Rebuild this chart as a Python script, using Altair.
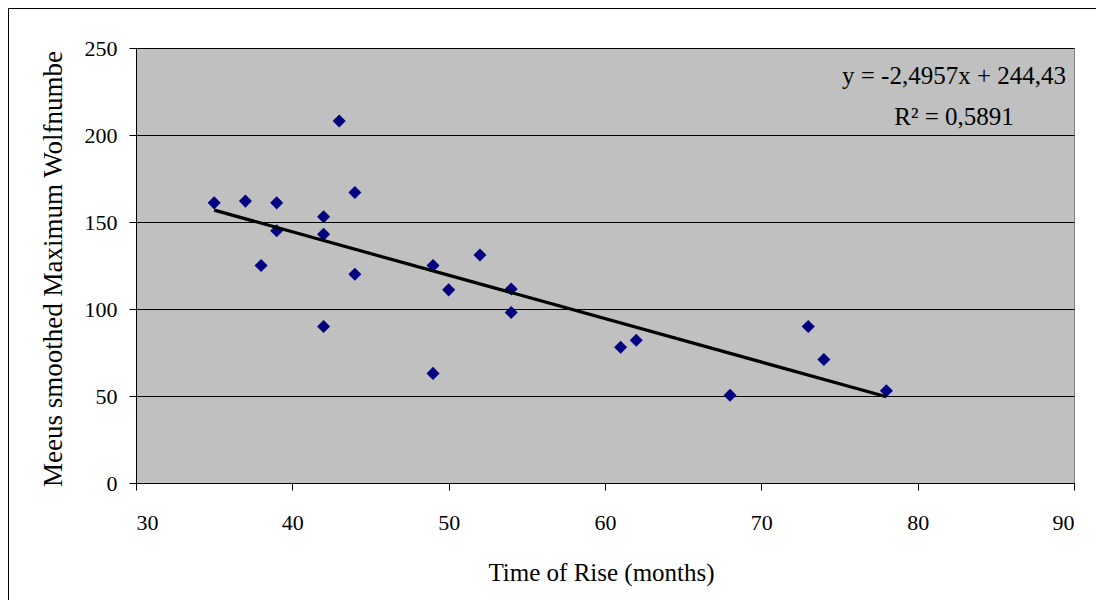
import altair as alt
import pandas as pd

# Data
rise_months = [35, 37, 39, 39, 38, 42, 42, 43, 44, 44, 42, 49, 49, 50, 52, 54, 54, 61, 62, 68, 73, 74, 78]
max_wolf = [161, 162, 161, 145, 125, 153, 143, 208, 167, 120, 90, 125, 63, 111, 131, 111.5, 98, 78, 82, 50.4, 90, 71, 53]
x_ticks = [30, 40, 50, 60, 70, 80, 90]
y_ticks = [0, 50, 100, 150, 200, 250]
equation_text = "y = -2,4957x + 244,43"
r2_text = "R² = 0,5891"
x_title = "Time of Rise (months)"
y_title = "Meeus smoothed Maximum Wolfnumber"

df = pd.DataFrame({"rise": rise_months, "wolf": max_wolf})

FONT = "Liberation Serif"
W, H = 938, 435

xs = alt.Scale(domain=[30, 90], nice=False, zero=False)
ys = alt.Scale(domain=[0, 250], nice=False)

xaxis = alt.Axis(values=x_ticks, grid=False, tickSize=7, labelPadding=22,
                 title=x_title, titleFont=FONT, titleFontSize=25, titleFontWeight="normal",
                 titleX=465, titleY=89, titleBaseline="middle", labelFont=FONT, labelFontSize=22,
                 domainColor="black", tickColor="black", labelColor="black", titleColor="black")
yaxis = alt.Axis(values=y_ticks, grid=True, gridColor="black", gridWidth=1, tickSize=7,
                 labelPadding=12, title=None, labelFont=FONT, labelFontSize=22,
                 domainColor="black", tickColor="black", labelColor="black")

base = alt.Chart(df)

points = base.mark_point(shape="diamond", filled=True, color="#000080", size=170, opacity=1).encode(
    x=alt.X("rise:Q", scale=xs, axis=xaxis),
    y=alt.Y("wolf:Q", scale=ys, axis=yaxis),
)

trend = base.transform_regression("rise", "wolf").mark_line(color="black", strokeWidth=3.2).encode(
    x=alt.X("rise:Q", scale=xs),
    y=alt.Y("wolf:Q", scale=ys),
)

eq1 = alt.Chart(pd.DataFrame({"t": [equation_text]})).mark_text(
    font=FONT, fontSize=25, color="black", align="center", baseline="alphabetic"
).encode(text="t:N", x=alt.value(818), y=alt.value(36))
eq2 = alt.Chart(pd.DataFrame({"t": [r2_text]})).mark_text(
    font=FONT, fontSize=25, color="black", align="center", baseline="alphabetic"
).encode(text="t:N", x=alt.value(818), y=alt.value(77))

ytitle = alt.Chart(pd.DataFrame({"t": [y_title]})).mark_text(
    font=FONT, fontSize=27, color="black", align="left", baseline="alphabetic", angle=270,
    limit=444, ellipsis="\u200b"
).encode(text="t:N", x=alt.value(-74), y=alt.value(439))

frame_left = alt.Chart(pd.DataFrame({"a": [0]})).mark_rule(color="black", strokeWidth=1).encode(
    x=alt.value(-127.5), y=alt.value(-39.5), y2=alt.value(600))
frame_top = alt.Chart(pd.DataFrame({"a": [0]})).mark_rule(color="black", strokeWidth=1).encode(
    x=alt.value(-127.5), x2=alt.value(1000), y=alt.value(-39.5))

chart = alt.layer(frame_left, frame_top, points, trend, eq1, eq2, ytitle).properties(
    width=W, height=H,
    autosize=alt.AutoSizeParams(type="none"),
    padding={"left": 128, "top": 40, "right": 22, "bottom": 117},
    background="white",
).configure_view(fill="#C0C0C0", stroke="#808080", strokeWidth=1)

chart.save("out.html", embed_options={"renderer": "svg", "actions": False})
